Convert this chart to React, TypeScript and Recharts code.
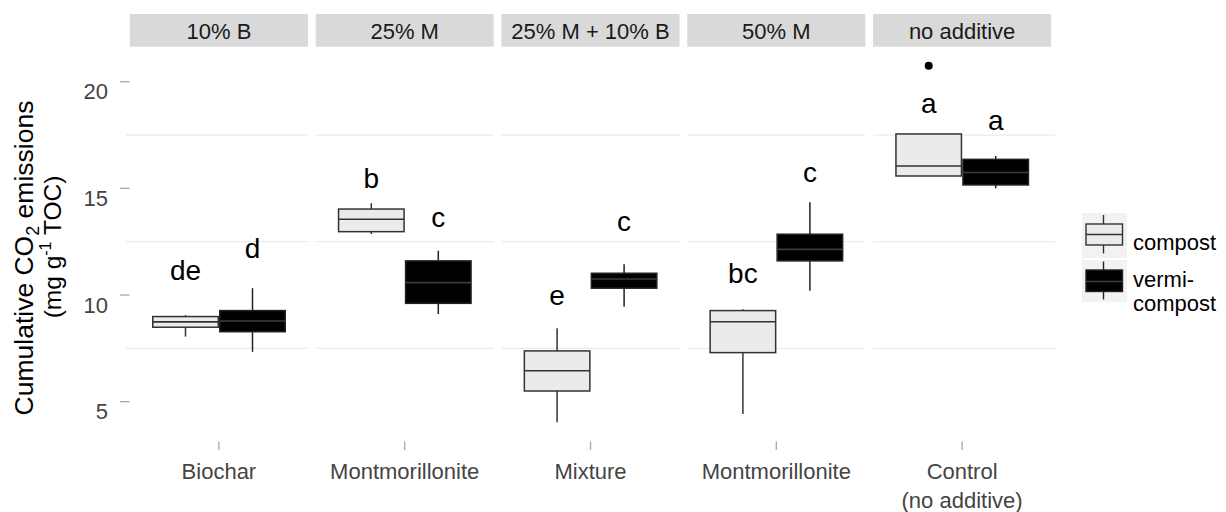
import React from "react";
import { ComposedChart, Bar, XAxis, YAxis, CartesianGrid } from "recharts";

// ---------- data ----------
const strips = ["10% B", "25% M", "25% M + 10% B", "50% M", "no additive"];
const additiveLabels = ["Biochar", "Montmorillonite", "Mixture", "Montmorillonite", "Control\n(no additive)"];

const compostMin = [8.05, 12.86, 4.03, 4.42, 15.58];
const compostQ1 = [8.49, 12.97, 5.5, 7.3, 15.58];
const compostMedian = [8.74, 13.55, 6.45, 8.75, 16.05];
const compostQ3 = [8.99, 14.03, 7.38, 9.27, 17.55];
const compostMax = [9.06, 14.3, 8.44, 9.33, 17.55];
const compostOutliers: number[][] = [[], [], [], [], [20.75]];
const compostLetters = ["de", "b", "e", "bc", "a"];
const compostLetterY = [10.7, 15.0, 9.53, 10.55, 18.52];

const vermiMin = [7.34, 9.11, 9.45, 10.2, 15.0];
const vermiQ1 = [8.28, 9.61, 10.32, 11.6, 15.16];
const vermiMedian = [8.78, 10.58, 10.75, 12.14, 15.74];
const vermiQ3 = [9.27, 11.6, 11.02, 12.85, 16.36];
const vermiMax = [10.32, 12.08, 11.44, 14.35, 16.52];
const vermiOutliers: number[][] = [[], [], [], [], []];
const vermiLetters = ["d", "c", "c", "c", "a"];
const vermiLetterY = [11.74, 13.2, 13.02, 15.31, 17.74];

const yTicks = [5, 10, 15, 20];
const yDomain: [number, number] = [3.25, 21.58];
const gridValues = [7.5, 12.5, 17.5];

// ---------- table for recharts ----------
const rows = strips.map((strip, i) => ({
  strip,
  index: i,
  compost: [
    Math.min(compostMin[i], ...compostOutliers[i]),
    Math.max(compostMax[i], ...compostOutliers[i]),
  ],
  vermi: [
    Math.min(vermiMin[i], ...vermiOutliers[i]),
    Math.max(vermiMax[i], ...vermiOutliers[i]),
  ],
}));

const FONT = "'Liberation Sans', Arial, Helvetica, sans-serif";

type Stats = {
  min: number[];
  q1: number[];
  med: number[];
  q3: number[];
  max: number[];
  out: number[][];
  letters: string[];
  letterY: number[];
  fill: string;
  stroke: string;
  medStroke: string;
};

const series: Record<string, Stats> = {
  compost: {
    min: compostMin, q1: compostQ1, med: compostMedian, q3: compostQ3, max: compostMax,
    out: compostOutliers, letters: compostLetters, letterY: compostLetterY,
    fill: "#ebebeb", stroke: "#333333", medStroke: "#333333",
  },
  vermi: {
    min: vermiMin, q1: vermiQ1, med: vermiMedian, q3: vermiQ3, max: vermiMax,
    out: vermiOutliers, letters: vermiLetters, letterY: vermiLetterY,
    fill: "#000000", stroke: "#222222", medStroke: "#3d3d3d",
  },
};

const makeBoxShape = (key: "compost" | "vermi") => (props: any) => {
  const { x, y, width, height, payload } = props;
  if (payload == null || height == null) return null;
  const s = series[key];
  const i = payload.index;
  const [lo, hi] = payload[key] as number[];
  // linear map derived from the bar geometry computed by the y scale
  const pix = (v: number) => y + ((hi - v) / (hi - lo)) * height;
  const cx = x + width / 2;
  const top = pix(s.q3[i]);
  const bot = pix(s.q1[i]);
  return (
    <g>
      <line x1={cx} x2={cx} y1={pix(s.max[i])} y2={top} stroke={s.stroke} strokeWidth={1.5} />
      <line x1={cx} x2={cx} y1={bot} y2={pix(s.min[i])} stroke={s.stroke} strokeWidth={1.5} />
      <rect x={x + 0.75} y={top} width={width - 1.5} height={Math.max(bot - top, 0.5)} fill={s.fill} stroke={s.stroke} strokeWidth={1.5} />
      <line x1={x + 0.75} x2={x + width - 0.75} y1={pix(s.med[i])} y2={pix(s.med[i])} stroke={s.medStroke} strokeWidth={1.6} />
      {s.out[i].map((o, k) => (
        <circle key={k} cx={cx} cy={pix(o)} r={4} fill="#000" />
      ))}
      <text x={cx} y={pix(s.letterY[i])} textAnchor="middle" fontSize={28} fontFamily={FONT} fill="#000">
        {s.letters[i]}
      </text>
    </g>
  );
};

const compostShape = makeBoxShape("compost");
const vermiShape = makeBoxShape("vermi");

const YTick = (props: any) => {
  const { x, y, payload } = props;
  return (
    <g>
      <line x1={x - 6} x2={x + 3.5} y1={y} y2={y} stroke="#a8a8a8" strokeWidth={1.3} />
      <text x={x - 18} y={y + 17.5} textAnchor="end" fontSize={22} fontFamily={FONT} fill="#444444">
        {payload.value}
      </text>
    </g>
  );
};

const XTick = (props: any) => {
  const { x, y, payload } = props;
  const idx = strips.indexOf(payload.value);
  const lines = (additiveLabels[idx] ?? "").split("\n");
  return (
    <g>
      <line x1={x} x2={x} y1={y + 2.5} y2={y + 11} stroke="#a8a8a8" strokeWidth={1.3} />
      {lines.map((l, k) => (
        <text key={k} x={x} y={y + 40 + k * 29} textAnchor="middle" fontSize={22} fontFamily={FONT} fill="#444444">
          {l}
        </text>
      ))}
    </g>
  );
};

const StripTick = (props: any) => {
  const { x, y, payload } = props;
  return (
    <g>
      <rect x={x - 89} y={y - 34} width={178} height={32.7} fill="#d9d9d9" />
      <text x={x} y={y - 8.7} textAnchor="middle" fontSize={22} fontFamily={FONT} fill="#1a1a1a">
        {payload.value}
      </text>
    </g>
  );
};

const Overlay = () => (
  <svg width={1226} height={512} style={{ position: "absolute", left: 0, top: 0, pointerEvents: "none" }}>
    {/* y axis title */}
    <text transform="rotate(-90, 33, 258)" x={33} y={258} textAnchor="middle" fontSize={26.5} fontFamily={FONT} fill="#000">
      Cumulative CO<tspan dy={6} fontSize={18}>2</tspan>
      <tspan dy={-6}> emissions</tspan>
    </text>
    <text transform="rotate(-90, 61, 247)" x={61} y={247} textAnchor="middle" fontSize={24.5} fontFamily={FONT} fill="#000">
      (mg g<tspan dy={-10} fontSize={16}>-1</tspan>
      <tspan dy={10}> TOC)</tspan>
    </text>
    {/* legend */}
    <rect x={1082} y={213} width={45} height={45} fill="#f2f2f2" />
    <line x1={1103.5} x2={1103.5} y1={215} y2={253.5} stroke="#333" strokeWidth={1.4} />
    <rect x={1086} y={224} width={36.5} height={21} fill="#ebebeb" stroke="#333" strokeWidth={1.4} />
    <line x1={1086} x2={1122.5} y1={234.5} y2={234.5} stroke="#333" strokeWidth={1.4} />
    <rect x={1082} y={260} width={45} height={42} fill="#f2f2f2" />
    <line x1={1103.5} x2={1103.5} y1={261.5} y2={299.5} stroke="#222" strokeWidth={1.4} />
    <rect x={1086} y={270} width={36.5} height={21.5} fill="#000" stroke="#222" strokeWidth={1.4} />
    <line x1={1086} x2={1122.5} y1={281.5} y2={281.5} stroke="#3d3d3d" strokeWidth={1.4} />
    <text x={1133} y={250} fontSize={22} fontFamily={FONT} fill="#000">compost</text>
    <text x={1133} y={287} fontSize={22} fontFamily={FONT} fill="#000">vermi-</text>
    <text x={1133} y={311} fontSize={22} fontFamily={FONT} fill="#000">compost</text>
  </svg>
);

export default function App() {
  return (
    <div style={{ position: "absolute", left: 0, top: 0, width: 1226, height: 512, background: "#fff" }}>
      <ComposedChart
        width={1226}
        height={512}
        data={rows}
        margin={{ top: 0, right: 171, bottom: 0, left: 0 }}
        barGap={0}
        barCategoryGap={0}
      >
        <CartesianGrid
          vertical={false}
          stroke="#ebebeb"
          strokeWidth={1.2}
          horizontalValues={gridValues}
        />
        <CartesianGrid
          horizontal={false}
          stroke="#ffffff"
          strokeWidth={8}
          verticalCoordinatesGenerator={({ offset }: any) =>
            [1, 2, 3, 4].map((k) => offset.left + (offset.width * k) / strips.length)
          }
        />
        <XAxis
          dataKey="strip"
          type="category"
          height={73}
          interval={0}
          axisLine={false}
          tickLine={false}
          tickSize={0}
          tickMargin={0}
          tick={<XTick />}
        />
        <XAxis
          xAxisId="top"
          orientation="top"
          dataKey="strip"
          type="category"
          height={48}
          interval={0}
          axisLine={false}
          tickLine={false}
          tickSize={0}
          tickMargin={0}
          tick={<StripTick />}
        />
        <YAxis
          type="number"
          domain={yDomain}
          allowDataOverflow
          ticks={yTicks}
          width={126}
          axisLine={false}
          tickLine={false}
          tickSize={0}
          tickMargin={0}
          tick={<YTick />}
        />
        <Bar dataKey="compost" barSize={67} shape={compostShape} isAnimationActive={false} />
        <Bar dataKey="vermi" barSize={67} shape={vermiShape} isAnimationActive={false} />
      </ComposedChart>
      <Overlay />
    </div>
  );
}
